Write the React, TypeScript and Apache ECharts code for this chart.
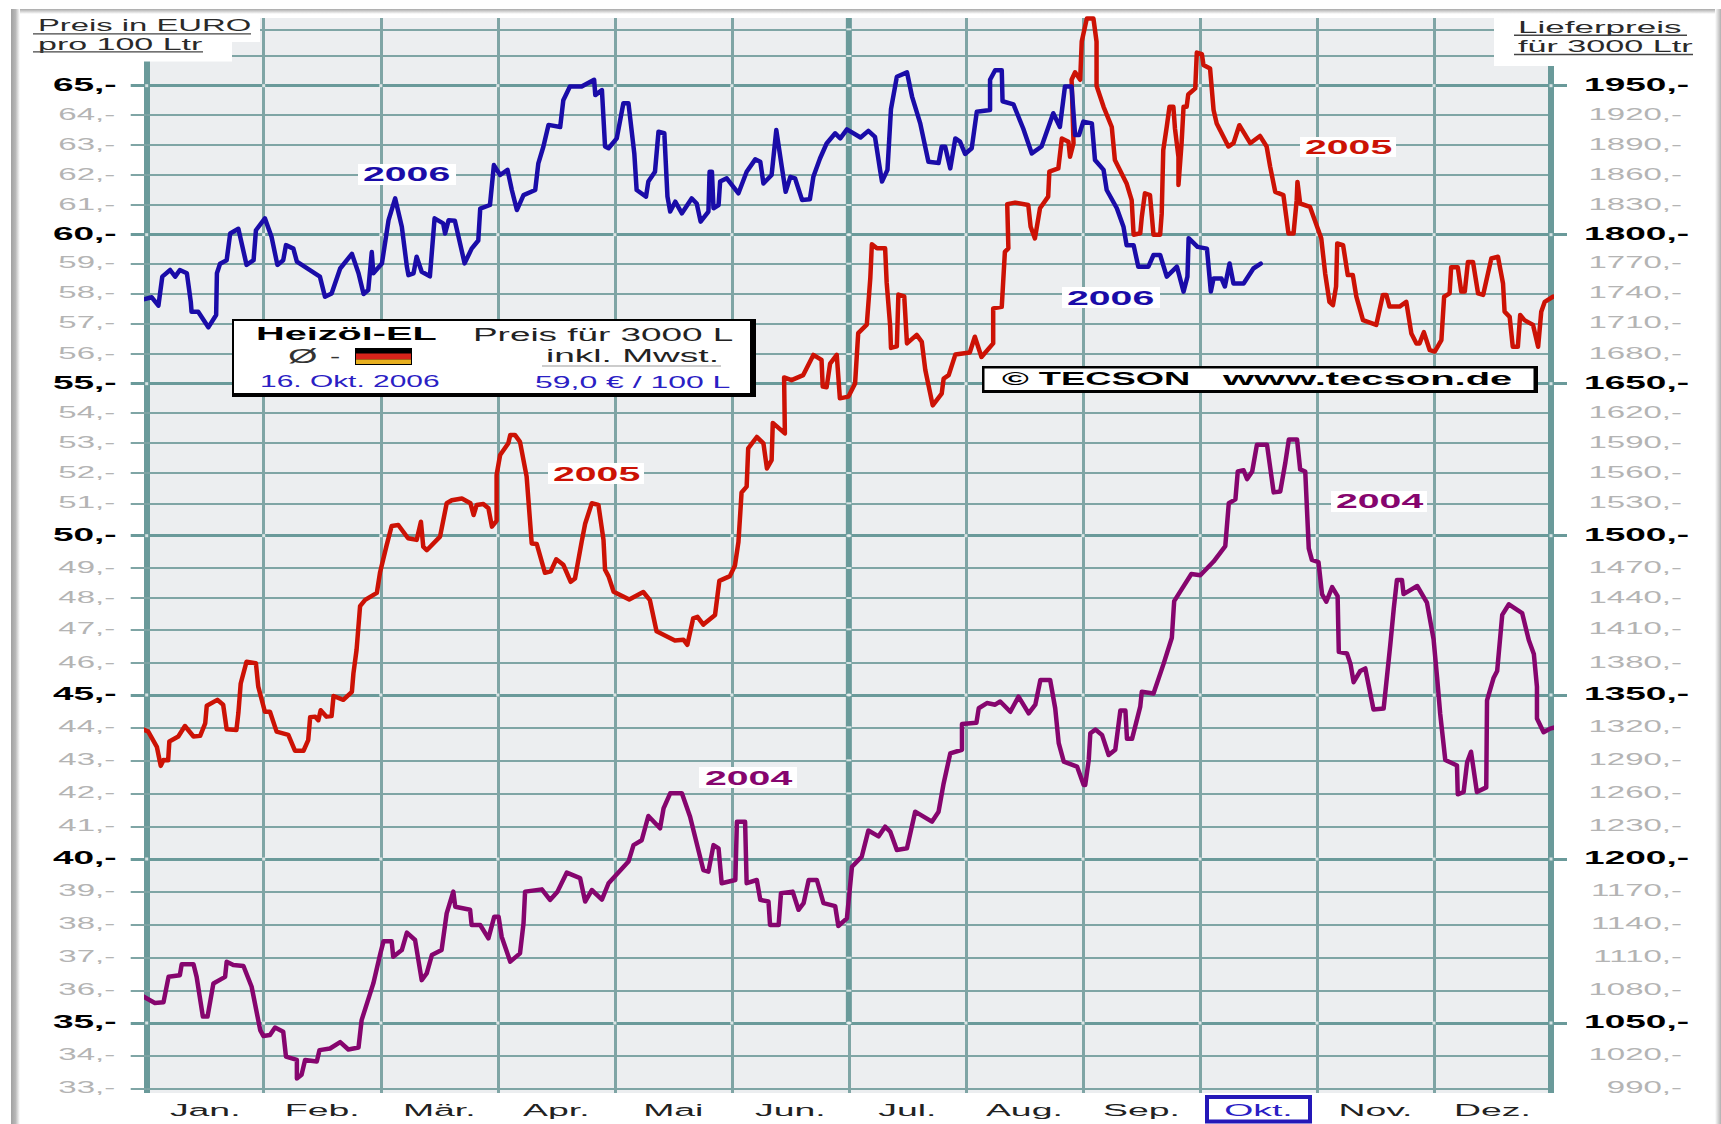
import React, { useEffect, useRef } from "react";
import * as echarts from "echarts";

const monthNames = ["Jan.", "Feb.", "Mär.", "Apr.", "Mai", "Jun.", "Jul.", "Aug.", "Sep.", "Okt.", "Nov.", "Dez."];
const monthStarts = [0, 30, 60, 90, 120, 150, 180, 210, 240, 270, 300, 330, 360];
const euroTicks = [33, 34, 35, 36, 37, 38, 39, 40, 41, 42, 43, 44, 45, 46, 47, 48, 49, 50, 51, 52, 53, 54, 55, 56, 57, 58, 59, 60, 61, 62, 63, 64, 65];
const unlabelledTicks = [66, 67];
// The printed euro scale is not quite linear: height of each euro gridline above the plot's foot.
const scaleEuros = [33, 34, 35, 36, 37, 38, 39, 40, 41, 42, 43, 44, 45, 46, 47, 48, 49, 50, 51, 52, 53, 54, 55, 56, 57, 58, 59, 60, 61, 62, 63, 64, 65, 66, 67];
const scaleHeights = [4.7, 37.7, 70, 102.3, 135.3, 168.7, 201.7, 234, 266.3, 299.7, 332.7, 365.7, 398, 430, 463.7, 495, 525, 557.3, 589.7, 620, 650, 680, 709.3, 739, 769.3, 799.3, 829.3, 858.3, 888, 918, 948, 978, 1007.3, 1037, 1063.7];

// [day of the year on a 360-day axis, euro per 100 litres]
const series2006 = [
  [-2, 57.77], [1.3, 57.88], [3, 57.6], [4, 58.57], [6, 58.79], [7.3, 58.57], [8.5, 58.79], [10.3, 58.68], [11.3, 57.73], [11.5, 57.4], [13.2, 57.4], [15.8, 56.88], [17.8, 57.29], [18, 58.68], [18.8, 59.0], [20.5, 59.12], [21.4, 60.04], [23.5, 60.2], [25.6, 58.96], [27.4, 59.12], [28, 60.15], [30.3, 60.55], [32, 59.93], [33.5, 58.96], [35, 59.12], [35.7, 59.64], [37.6, 59.52], [38.5, 59.07], [44.4, 58.57], [45.7, 57.9], [47.4, 58.01], [49.6, 58.84], [52.6, 59.34], [54.3, 58.68], [55.6, 57.99], [56.8, 58.12], [57.7, 59.4], [58.1, 58.68], [60.3, 59.01], [62, 60.49], [63.7, 61.22], [65.4, 60.27], [66.7, 58.9], [67.1, 58.62], [68.4, 58.68], [69.2, 59.24], [70.5, 58.73], [72.6, 58.58], [73.8, 60.55], [76, 60.38], [76.5, 60.04], [77.4, 60.49], [79, 60.47], [81.5, 59.01], [83.3, 59.52], [85, 59.8], [85.5, 60.88], [88, 61], [89, 62.33], [90.6, 62.0], [92.5, 62.17], [93.6, 61.5], [94.9, 60.83], [96.6, 61.33], [99.6, 61.5], [100.4, 62.39], [101.7, 62.95], [103, 63.67], [106, 63.6], [106.8, 64.5], [108.5, 64.97], [111.5, 64.97], [114.7, 65.2], [115, 64.68], [116.7, 64.85], [117.5, 62.95], [118.4, 62.89], [120.5, 63.22], [122.2, 64.4], [123.5, 64.4], [125, 62.72], [125.6, 61.5], [128, 61.28], [128.6, 61.78], [130.3, 62.11], [131.2, 63.44], [132.7, 63.39], [133.5, 61.28], [134.2, 60.78], [135.5, 61.11], [137.2, 60.72], [139.7, 61.22], [141, 61.05], [142, 60.44], [144, 60.78], [144.3, 62.11], [144.9, 62.11], [145.3, 60.89], [146.6, 61], [147, 61.78], [148.7, 61.89], [151.7, 61.39], [153.8, 62.11], [156, 62.52], [157.3, 62.44], [158.1, 61.72], [160.2, 62], [161.4, 63.5], [162.8, 62.28], [163.8, 61.44], [165, 61.94], [166.2, 61.89], [168, 61.17], [170, 61.19], [170.9, 61.94], [172.6, 62.55], [174.3, 63.05], [176.5, 63.39], [177.8, 63.22], [179.5, 63.52], [183, 63.25], [185, 63.47], [186.7, 63.27], [188, 62.17], [188.5, 61.78], [189.9, 62.17], [190.8, 64.2], [192.3, 65.3], [194.9, 65.45], [196.2, 64.63], [198.3, 63.72], [200.4, 62.44], [203, 62.4], [203.8, 62.94], [204.7, 62.94], [206, 62.22], [207.3, 63.22], [208.5, 63.11], [209.8, 62.7], [211.5, 62.89], [212.8, 64.11], [216.2, 64.17], [216.2, 65.2], [217.5, 65.52], [219.2, 65.52], [219.4, 64.47], [222.2, 64.36], [224.7, 63.55], [226.9, 62.72], [229.4, 62.95], [232.4, 64.06], [234.1, 63.6], [235.4, 64.97], [237.1, 64.97], [238, 63.33], [239, 63.33], [240.1, 63.78], [242.3, 63.72], [243.1, 62.5], [245.3, 62.17], [246.1, 61.5], [248.7, 60.89], [250.4, 60.27], [251.2, 59.64], [253, 59.64], [254.2, 58.9], [256.8, 58.9], [258.1, 59.3], [259.8, 59.3], [261.5, 58.57], [264.1, 58.9], [265.8, 58.07], [266.8, 58.57], [267.1, 59.88], [269.4, 59.58], [271.8, 59.52], [272.8, 58.07], [273.5, 58.51], [275.5, 58.51], [276.4, 58.24], [277.6, 59.01], [278.6, 58.34], [281.2, 58.34], [283.7, 58.84], [285.6, 59.0],
];
const series2005 = [
  [-2.1, 44.0], [0.4, 43.87], [2.6, 43.41], [3.6, 42.83], [4.3, 43.01], [5.5, 43.0], [5.8, 43.57], [8.1, 43.72], [9.8, 44.04], [12, 43.72], [13.7, 43.74], [15, 44.12], [15.4, 44.67], [18.1, 44.85], [19.6, 44.7], [20.5, 43.94], [23, 43.92], [23.5, 44.44], [24.1, 45.36], [25.6, 46.04], [28, 45.99], [28.6, 45.26], [30.3, 44.48], [31.6, 44.48], [33.3, 43.87], [36.3, 43.77], [38, 43.29], [40.2, 43.29], [41.4, 43.61], [41.9, 44.31], [43.2, 44.33], [44, 44.22], [44.6, 44.53], [46.1, 44.33], [47.4, 44.35], [47.9, 44.97], [50.4, 44.85], [52.6, 45.1], [53, 45.68], [53.8, 46.39], [54.7, 47.74], [56, 47.94], [59, 48.17], [59.8, 48.84], [61.5, 49.7], [62.8, 50.3], [64.5, 50.33], [67, 49.92], [69.2, 49.87], [70.3, 50.43], [70.9, 49.66], [71.8, 49.55], [75.2, 49.97], [76.9, 51], [78.2, 51.1], [80.8, 51.16], [83, 51], [83.8, 50.64], [84.6, 50.95], [86.3, 50.98], [87.6, 50.85], [88.5, 50.28], [89.7, 50.46], [89.7, 51.94], [90.6, 52.6], [92.7, 52.99], [93.2, 53.27], [94.4, 53.27], [95.7, 53.04], [97.4, 51.88], [98.7, 49.76], [100, 49.74], [102.1, 48.84], [103.6, 48.89], [105, 49.27], [106.8, 49.1], [108.7, 48.54], [109.8, 48.65], [111.5, 49.81], [112.4, 50.37], [114.1, 51], [115.8, 50.95], [117.1, 49.87], [117.5, 48.94], [118.4, 48.72], [119.7, 48.21], [123.7, 47.95], [127.3, 48.2], [129, 47.93], [130.7, 46.94], [135.4, 46.67], [137.6, 46.69], [138.6, 46.54], [140.1, 47.35], [141.2, 47.4], [142.7, 47.15], [145.7, 47.46], [146.8, 48.57], [149.5, 48.73], [150.8, 49.08], [151.7, 49.81], [152.5, 51.36], [153.8, 51.55], [154.2, 52.82], [156.4, 53.2], [158.1, 52.99], [159, 52.15], [160.2, 52.43], [160.5, 53.67], [163.6, 53.32], [163.4, 55.21], [165.3, 55.12], [168.3, 55.29], [170.9, 55.97], [173, 55.8], [173.3, 54.9], [174.3, 54.88], [175.2, 55.68], [176.9, 55.97], [177.7, 54.5], [179.9, 54.56], [181.6, 55.01], [182.4, 56.69], [184.6, 56.97], [185.5, 58.52], [185.9, 59.67], [187.2, 59.53], [189.3, 59.53], [189.7, 58.36], [190.6, 56.91], [190.8, 56.2], [192.3, 56.25], [192.7, 57.97], [194.2, 57.91], [194.9, 56.35], [197.4, 56.63], [198.7, 56.4], [199.6, 55.46], [201.5, 54.26], [203.8, 54.66], [204.3, 55.17], [205.6, 55.29], [207.3, 55.98], [211, 56.05], [212.3, 56.57], [214, 55.9], [217, 56.35], [217, 57.51], [219.2, 57.56], [220, 59.41], [220.9, 59.53], [220.6, 61.03], [222.6, 61.08], [226, 61], [226.6, 60.27], [227.7, 59.87], [229, 60.89], [231.1, 61.28], [231.4, 62.11], [233.7, 62.22], [234.6, 63.22], [236.3, 63.11], [236.7, 62.61], [237.6, 63.06], [237.1, 65.2], [238, 65.45], [239.3, 65.2], [239.7, 66.54], [241, 67.4], [242.7, 67.4], [243.5, 66.54], [243.5, 65], [245.3, 64.28], [247.4, 63.6], [248.2, 62.5], [251.2, 61.72], [252.5, 61.16], [253, 60], [254.7, 60.05], [255.1, 60.6], [255.9, 61.39], [257.2, 61.33], [258.1, 60], [259.8, 60], [260.2, 60.7], [260.6, 62.83], [261.5, 63.61], [262.2, 64.28], [263.2, 64.28], [263.6, 63.55], [264.5, 62.6], [264.5, 61.67], [265.3, 63.06], [265.8, 64.28], [266.6, 64.28], [267, 64.7], [268.8, 64.91], [269.2, 66.13], [270.5, 66.07], [270.9, 65.7], [272.6, 65.58], [273.5, 64.17], [274.3, 63.72], [277.3, 62.95], [278.6, 63.06], [280.1, 63.66], [282.9, 63.06], [285.4, 63.3], [287.1, 62.95], [288, 62.28], [289.3, 61.44], [291.4, 61.33], [292.7, 60.04], [294, 60.04], [294.8, 61.16], [295, 61.77], [295.7, 61.05], [298.2, 60.94], [301.1, 59.88], [302.1, 58.68], [303.2, 57.73], [304.1, 57.62], [304.9, 58.24], [305.2, 59.7], [306.7, 59.64], [307.9, 58.62], [309.2, 58.62], [310.1, 57.9], [311.8, 57.12], [315.2, 56.96], [316.9, 57.96], [317.8, 57.96], [318.6, 57.57], [321.2, 57.57], [322.9, 57.73], [324.2, 56.68], [325.5, 56.35], [326.3, 56.35], [327.4, 56.72], [328.9, 56.13], [330.2, 56.08], [331.9, 56.46], [332.6, 57.9], [334, 58.01], [334.4, 58.88], [336.1, 58.88], [337, 58.07], [337.9, 58.07], [338.7, 59.06], [340, 59.06], [341.3, 58.01], [342.6, 57.96], [344.7, 59.18], [346.4, 59.24], [347.7, 58.34], [348.1, 57.4], [349.4, 57.23], [350.2, 56.24], [351.5, 56.24], [352.1, 57.29], [353.2, 57.12], [355.4, 56.96], [356.7, 56.24], [357.5, 57.4], [358.4, 57.73], [360.5, 57.9],
];
const series2004 = [
  [-1.3, 35.85], [2.1, 35.62], [4.3, 35.64], [5.6, 36.42], [8.5, 36.47], [8.97, 36.8], [12, 36.8], [12.8, 36.42], [14.4, 35.2], [15.6, 35.2], [17.1, 36.22], [20.1, 36.42], [20.5, 36.88], [22.2, 36.78], [24.8, 36.75], [26.9, 36.12], [29.1, 34.78], [29.9, 34.6], [31.6, 34.63], [32.9, 34.86], [35, 34.73], [35.7, 33.96], [38.5, 33.86], [38.5, 33.3], [39.7, 33.41], [40.6, 33.86], [43.6, 33.81], [44.3, 34.16], [47, 34.21], [49.6, 34.41], [51.7, 34.18], [54.3, 34.24], [55.1, 35.09], [58.1, 36.22], [59.8, 37.08], [60.7, 37.49], [62.8, 37.49], [63.2, 37.03], [65.4, 37.23], [66.7, 37.75], [68.8, 37.53], [70.5, 36.32], [71.8, 36.53], [73.1, 37.08], [75.6, 37.23], [76.9, 38.33], [78.6, 38.99], [79.1, 38.53], [82.9, 38.44], [83.3, 37.98], [85.5, 37.98], [87.6, 37.58], [89.1, 38.23], [90.2, 38.23], [91, 37.63], [93.2, 36.88], [95.7, 37.13], [96.6, 38.03], [97, 38.99], [101.3, 39.06], [103.4, 38.74], [105.3, 38.99], [107.7, 39.58], [111.1, 39.41], [112.4, 38.69], [114.1, 39.04], [116.7, 38.75], [118.4, 39.25], [123.5, 39.92], [124.8, 40.43], [126.9, 40.58], [128.6, 41.32], [131.6, 40.95], [132.5, 41.55], [134.2, 42], [137.2, 42], [139.3, 41.3], [142.7, 39.66], [144, 39.61], [145.3, 40.43], [146.6, 40.33], [147.4, 39.25], [150.9, 39.35], [151.3, 41.15], [153.4, 41.15], [153.8, 39.25], [156.4, 39.35], [157.3, 38.74], [159.4, 38.69], [159.8, 37.98], [162, 37.98], [162.6, 38.94], [165.6, 38.99], [167.1, 38.44], [168.4, 38.64], [169.7, 39.35], [171.8, 39.35], [173.5, 38.64], [176.5, 38.55], [177.3, 37.95], [179.5, 38.18], [180.8, 39.76], [183.3, 40.07], [185, 40.88], [187.6, 40.7], [189.3, 41], [190.6, 40.85], [192.3, 40.28], [194.9, 40.33], [197, 41.45], [201.3, 41.15], [203, 41.45], [204.3, 42.3], [206, 43.21], [209, 43.32], [209, 44.1], [212.7, 44.14], [213.3, 44.59], [215.4, 44.75], [217.5, 44.7], [218.8, 44.8], [221.4, 44.48], [223.5, 44.95], [226.1, 44.43], [227.8, 44.7], [229.1, 45.47], [231.6, 45.47], [232.9, 44.59], [233.8, 43.52], [235.1, 42.96], [238.5, 42.81], [240.2, 42.25], [240.6, 42.25], [241.5, 43.01], [241.9, 43.82], [243.2, 43.93], [244.9, 43.77], [246.6, 43.16], [248.3, 43.32], [249.6, 44.52], [250.9, 44.52], [251.3, 43.65], [252.6, 43.65], [254.7, 44.64], [255.1, 45.1], [258.1, 45.05], [260.7, 45.98], [262.8, 46.75], [263.4, 47.9], [267.8, 48.8], [270.1, 48.76], [273.5, 49.2], [276.5, 49.68], [277.4, 51], [279.1, 51.13], [279.7, 52.05], [281.2, 52.09], [282.1, 51.8], [283.4, 52.05], [284.6, 52.94], [287.2, 52.94], [288.9, 51.36], [290.6, 51.39], [291.9, 52.35], [292.8, 53.12], [294.9, 53.12], [295.7, 52.12], [297, 52.05], [297.9, 49.61], [298.7, 49.25], [300.4, 49.18], [301.3, 48.13], [302.4, 47.88], [303.9, 48.36], [305.3, 48.06], [305.6, 46.33], [307.7, 46.28], [308.6, 45.97], [309.4, 45.4], [311.1, 45.75], [312.4, 45.83], [314.5, 44.55], [317.1, 44.58], [318.8, 46.54], [319.7, 47.67], [320.5, 48.6], [321.8, 48.6], [322.2, 48.13], [325.7, 48.4], [328.2, 47.85], [329.9, 46.7], [330.8, 45.55], [331.6, 44.41], [332.9, 43.01], [335.9, 42.84], [336.1, 41.97], [337.6, 42.04], [338.5, 42.94], [339.5, 43.26], [341, 42.04], [343.4, 42.18], [343.6, 44.83], [345.3, 45.54], [346.2, 45.75], [347.5, 47.46], [349.2, 47.8], [352.6, 47.52], [354.3, 46.68], [355.6, 46.27], [356.4, 45.26], [356.4, 44.27], [358.1, 43.85], [359.8, 43.96], [361.5, 44.01],
];

const FONT = "'Liberation Sans', Arial, sans-serif";
const GRID_THIN = "#7FA5A5";
const GRID_MAJOR = "#6A9A9A";
const BLUE = "#1A0CA8";
const RED = "#CC1205";
const PURPLE = "#86056E";
const LINK_BLUE = "#2A20C4";
const CROSSING = "#F2F5F5";

function toAxis(euro: number): number {
  const n = scaleEuros.length;
  let i = 0;
  while (i < n - 2 && euro > scaleEuros[i + 1]) i++;
  const t = (euro - scaleEuros[i]) / (scaleEuros[i + 1] - scaleEuros[i]);
  return scaleHeights[i] + t * (scaleHeights[i + 1] - scaleHeights[i]);
}

const isMajor = (v: number) => v % 5 === 0;
const allRows = [...euroTicks, ...unlabelledTicks];
const thinValues = allRows.filter((v) => !isMajor(v)).map(toAxis);
const majorValues = euroTicks.filter(isMajor).map(toAxis);

function label(text: string, x: number, baseline: number, size: number, scale: number, fill: string, weight = "normal") {
  return {
    type: "text", x, y: baseline - size * 0.358, scaleX: scale, z: 30, silent: true,
    style: { text, fontFamily: FONT, fontSize: size, fontWeight: weight, fill, align: "left", verticalAlign: "middle" },
  };
}
function box(x: number, y: number, width: number, height: number, fill: any, z = 20, extra: any = {}) {
  return { type: "rect", shape: { x, y, width, height }, z, silent: true, style: { fill, ...extra } };
}

function yearTag(text: string, bx: number, by: number, bw: number, bh: number, tx: number, base: number, fill: string) {
  return [box(bx, by, bw, bh, "#FFFFFF", 25), label(text, tx, base, 20, 1.96, fill, "bold")];
}

function tickLabelSeries(side: "left" | "right") {
  return {
    type: "custom",
    coordinateSystem: "cartesian2d",
    xAxisIndex: 0,
    yAxisIndex: 0,
    silent: true,
    z: 5,
    clip: false,
    data: euroTicks.map((v) => [side === "left" ? 0 : 360, toAxis(v)]),
    renderItem(params: any, api: any) {
      const euro = euroTicks[params.dataIndex];
      const major = isMajor(euro);
      const pt = api.coord([api.value(0), api.value(1)]);
      const text = side === "left" ? `${euro},-` : `${euro * 30},-`;
      const x = side === "left" ? pt[0] - (major ? 30 : 31.5) : pt[0] + (major ? 138 : 131);
      return {
        type: "text",
        x,
        y: pt[1] - 1,
        scaleX: 2,
        style: {
          text,
          fontFamily: FONT,
          fontSize: major ? 18.5 : 16.5,
          fontWeight: major ? "bold" : "normal",
          fill: major ? "#000000" : "#B4B4B4",
          align: "right",
          verticalAlign: "middle",
        },
      };
    },
  };
}

const monthLabelSeries = {
  type: "custom",
  coordinateSystem: "cartesian2d",
  xAxisIndex: 0,
  yAxisIndex: 0,
  silent: true,
  z: 40,
  clip: false,
  data: monthNames.map((_, i) => [15 + i * 30, 0]),
  renderItem(params: any, api: any) {
    const name = monthNames[params.dataIndex];
    const pt = api.coord([api.value(0), api.value(1)]);
    return {
      type: "text",
      x: pt[0],
      y: pt[1] + 17,
      scaleX: 2.2,
      style: {
        text: name,
        fontFamily: FONT,
        fontSize: 17,
        fill: name === "Okt." ? LINK_BLUE : "#222222",
        align: "center",
        verticalAlign: "middle",
      },
    };
  },
};

function lineSeries(name: string, data: number[][], color: string, z: number) {
  return {
    name,
    type: "line",
    xAxisIndex: 0,
    yAxisIndex: 0,
    showSymbol: false,
    symbol: "none",
    clip: false,
    z,
    silent: true,
    lineStyle: { color, width: 4.5, join: "round", cap: "round" },
    data: data.map(([d, e]) => [d, toAxis(e)]),
  };
}

// Mid-year rule: heavy from the 35 line upward, the plain month line stays below it.
const midYearRule = {
  type: "line",
  xAxisIndex: 0,
  yAxisIndex: 0,
  symbol: "none",
  showSymbol: false,
  silent: true,
  z: 1,
  lineStyle: { color: GRID_MAJOR, width: 6 },
  data: [[180, toAxis(35)], [180, 1075]],
};

function crossingSeries(data: number[][], size: number[]) {
  return {
    type: "scatter",
    xAxisIndex: 0,
    yAxisIndex: 0,
    symbol: "rect",
    symbolSize: size,
    silent: true,
    z: 2,
    itemStyle: { color: CROSSING },
    data,
  };
}
const majorCrossings = monthStarts.flatMap((d) => euroTicks.filter(isMajor).map((v) => [d, toAxis(v)]));
const midYearCrossings = allRows.filter((v) => v >= 35).map((v) => [180, toAxis(v)]);

function frameGraphics() {
  const sideFill = new echarts.graphic.LinearGradient(0, 0, 1, 0, [
    { offset: 0, color: "#A0A0A0" },
    { offset: 0.5, color: "#B8B8B8" },
    { offset: 1, color: "#FFFFFF" },
  ]);
  const rightFill = new echarts.graphic.LinearGradient(0, 0, 1, 0, [
    { offset: 0, color: "#FFFFFF" },
    { offset: 1, color: "#B0B0B0" },
  ]);
  const topFill = new echarts.graphic.LinearGradient(0, 0, 0, 1, [
    { offset: 0, color: "#A8A8A8" },
    { offset: 1, color: "#FFFFFF" },
  ]);
  return [
    box(11, 9, 1710, 5, topFill, 22),
    box(11, 9, 9, 1115, sideFill, 23),
    box(1715, 9, 6, 1115, rightFill, 23),
    // header cut-outs
    box(20, 14, 240, 28, "#FFFFFF"),
    box(20, 42, 212, 19.5, "#FFFFFF"),
    box(1494, 14, 221, 52, "#FFFFFF"),
    label("Preis in EURO", 38, 31.7, 17, 1.93, "#2A2A2A"),
    box(33, 33.2, 218, 1.4, "#444444", 31),
    label("pro 100 Ltr", 38, 50, 17, 2, "#2A2A2A"),
    box(33, 51.2, 170, 1.4, "#444444", 31),
    label("Lieferpreis", 1518, 33.3, 17, 2.06, "#2A2A2A"),
    box(1514, 34.6, 173, 1.4, "#444444", 31),
    label("für 3000 Ltr", 1518, 52.3, 17, 2.01, "#2A2A2A"),
    box(1514, 53.8, 179, 1.4, "#444444", 31),
    // info panel
    box(232, 319, 524, 78, "#000000", 24),
    box(234, 321, 516, 72, "#FFFFFF", 25),
    label("Heizöl-EL", 256, 340.7, 19, 2.09, "#000000", "bold"),
    label("Preis für 3000 L", 473, 341.7, 18, 2.05, "#222222"),
    label("inkl. Mwst.", 546, 362.7, 18, 2.06, "#222222"),
    box(542, 365.6, 179, 1, "#999999", 31),
    label("Ø", 288, 363, 20, 1.9, "#333333"),
    label("-", 330, 363, 18, 1.7, "#333333"),
    box(355, 348, 57, 17, "#000000", 30),
    box(356, 353.5, 55, 6, "#D8241A", 31),
    box(356, 359.5, 55, 4.5, "#E8B020", 31),
    label("16. Okt. 2006", 260, 387, 17, 1.76, LINK_BLUE),
    label("59,0 € / 100 L", 535, 387.7, 17, 1.88, LINK_BLUE),
    // copyright panel
    box(982, 366, 556, 27, "#000000", 24),
    box(984.5, 368.5, 549, 21.5, "#FFFFFF", 25),
    label("© TECSON", 1002, 385, 18, 2.02, "#000000", "bold"),
    label("www.tecson.de", 1223, 385, 18, 2.22, "#000000", "bold"),
    // year tags
    ...yearTag("2006", 358, 164, 98, 21, 363, 181.7, BLUE),
    ...yearTag("2006", 1062, 287, 98, 21, 1067, 305, BLUE),
    ...yearTag("2005", 548, 463, 96, 21, 553, 481, RED),
    ...yearTag("2005", 1300, 137, 96, 20, 1305, 154, RED),
    ...yearTag("2004", 699, 767, 98, 21, 705, 785, PURPLE),
    ...yearTag("2004", 1331, 491, 96, 21, 1336, 508.5, PURPLE),
    // current-month marker
    { type: "rect", shape: { x: 1207, y: 1097, width: 103, height: 24.5 }, z: 20, silent: true, style: { fill: "#FFFFFF", stroke: "#2418B8", lineWidth: 4 } },
  ];
}

function valueY(position: "left" | "right", values: number[], width: number, color: string, withSplit: boolean) {
  return {
    type: "value",
    position,
    min: 0,
    max: 1075,
    axisLine: { show: false },
    axisLabel: { show: false },
    axisTick: { show: true, inside: false, length: 16, customValues: values, lineStyle: { color, width } },
    splitLine: { show: withSplit, lineStyle: { color, width, type: "solid" } },
  };
}

export default function App() {
  const ref = useRef<HTMLDivElement>(null);
  useEffect(() => {
    document.body.style.margin = "0";
    document.body.style.background = "#FFFFFF";
    document.documentElement.style.overflow = "hidden";
    const chart = echarts.init(ref.current!, undefined, { renderer: "svg" });
    chart.setOption({
      animation: false,
      backgroundColor: "#FFFFFF",
      grid: { show: true, left: 146.7, right: 170, top: 18, bottom: 31, backgroundColor: "#ECEEF0", borderWidth: 0, containLabel: false },
      xAxis: [
        { type: "value", min: 0, max: 360, interval: 30, axisLine: { show: false }, axisLabel: { show: false }, axisTick: { show: false },
          splitLine: { show: true, lineStyle: { color: GRID_THIN, width: 3, type: "solid" } } },
        { type: "value", min: 0, max: 360, interval: 360, axisLine: { show: false }, axisLabel: { show: false }, axisTick: { show: false },
          splitLine: { show: true, lineStyle: { color: GRID_MAJOR, width: 6, type: "solid" } } },
      ],
      yAxis: [
        valueY("left", thinValues, 2, GRID_THIN, true),
        valueY("right", thinValues, 2, GRID_THIN, false),
        valueY("left", majorValues, 3, GRID_MAJOR, true),
        valueY("right", majorValues, 3, GRID_MAJOR, false),
      ],
      series: [
        midYearRule,
        crossingSeries(majorCrossings, [3, 3]),
        crossingSeries(midYearCrossings, [5, 2]),
        lineSeries("2004", series2004, PURPLE, 6),
        lineSeries("2005", series2005, RED, 7),
        lineSeries("2006", series2006, BLUE, 8),
        tickLabelSeries("left"),
        tickLabelSeries("right"),
        monthLabelSeries,
      ],
      graphic: { elements: frameGraphics() },
    });
    return () => chart.dispose();
  }, []);
  return <div ref={ref} style={{ position: "absolute", left: 0, top: 0, width: 1721, height: 1124 }} />;
}
